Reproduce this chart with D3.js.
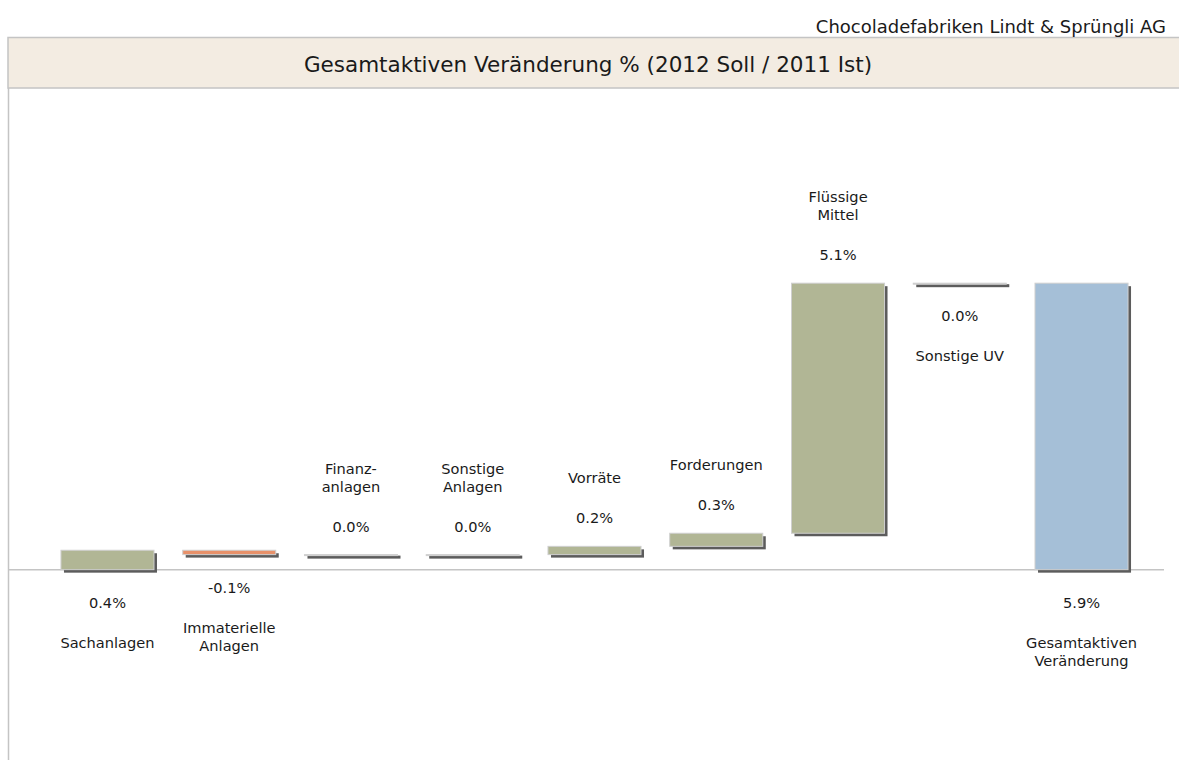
<!DOCTYPE html>
<html>
<head>
<meta charset="utf-8">
<script src="https://cdn.jsdelivr.net/npm/d3@7"></script>
<style>
  body { margin: 0; background: #fff; }
  text { font-family: "DejaVu Sans", Tahoma, Verdana, sans-serif; fill: #1a1a1a; }
</style>
</head>
<body>
<div id="chart"></div>
<script>
// Data
var categories = ["Sachanlagen", "Immaterielle\nAnlagen", "Finanz-\nanlagen", "Sonstige\nAnlagen",
                  "Vorräte", "Forderungen", "Flüssige\nMittel", "Sonstige UV", "Gesamtaktiven\nVeränderung"];
var changes = [0.40, -0.09, 0.0, 0.0, 0.17, 0.27, 5.15, 0.0];
var valueLabels = ["0.4%", "-0.1%", "0.0%", "0.0%", "0.2%", "0.3%", "5.1%", "0.0%", "5.9%"];
var totalValue = 5.9;
// categories whose labels sit below the bar
var labelsBelow = ["Sachanlagen", "Immaterielle\nAnlagen", "Sonstige UV", "Gesamtaktiven\nVeränderung"];

var titleText = "Gesamtaktiven Veränderung % (2012 Soll / 2011 Ist)";
var companyText = "Chocoladefabriken Lindt & Sprüngli AG";

//Width and height
var w = 1179;
var h = 760;

var svg = d3.select("#chart").append("svg")
    .attr("width", w)
    .attr("height", h);

// build waterfall rows
var rows = [];
var running = 0;
for (var i = 0; i < changes.length; i++) {
  var start = running;
  running += changes[i];
  rows.push({ name: categories[i], start: start, end: running, value: changes[i], label: valueLabels[i], type: changes[i] < 0 ? "neg" : "pos" });
}
rows.push({ name: categories[categories.length - 1], start: 0, end: totalValue, value: totalValue, label: valueLabels[valueLabels.length - 1], type: "total" });

var color = { pos: "#b1b695", neg: "#e8916a", total: "#a5bfd7" };

var x = d3.scaleBand()
    .domain(categories)
    .range([46.6, 1142.4])
    .paddingInner(0.236)
    .paddingOuter(0.118);

var y = d3.scaleLinear()
    .domain([-3.92, 9.92])
    .range([760, 88]);

// header band
svg.append("rect")
    .attr("x", 8).attr("y", 37.5)
    .attr("width", w).attr("height", 50.5)
    .attr("fill", "#f3ece2")
    .attr("stroke", "#c4c4c4")
    .attr("stroke-width", 1.5);

svg.append("text")
    .attr("x", 588).attr("y", 72)
    .attr("text-anchor", "middle")
    .style("font-size", "21.5px")
    .text(titleText);

svg.append("text")
    .attr("x", 1166).attr("y", 33)
    .attr("text-anchor", "end")
    .style("font-size", "18px")
    .text(companyText);

// left frame line
svg.append("line")
    .attr("x1", 8.5).attr("x2", 8.5)
    .attr("y1", 88).attr("y2", h)
    .attr("stroke", "#c4c4c4").attr("stroke-width", 1.5);

// zero line
svg.append("line")
    .attr("x1", 8).attr("x2", 1164)
    .attr("y1", y(0)).attr("y2", y(0))
    .attr("stroke", "#c4c4c4").attr("stroke-width", 1.5);

var bars = svg.selectAll("g.bar")
    .data(rows)
    .enter()
    .append("g")
    .attr("class", "bar");

function barTop(d) { return y(Math.max(d.start, d.end)); }
function barBottom(d) { return y(Math.min(d.start, d.end)); }
function barH(d) { return Math.max(1, barBottom(d) - barTop(d)); }

// shadow
bars.append("rect")
    .attr("x", function(d) { return x(d.name) + 3; })
    .attr("y", function(d) { return barTop(d) + Math.min(3, barH(d)); })
    .attr("width", x.bandwidth())
    .attr("height", function(d) { return barH(d) + 3 - Math.min(3, barH(d)); })
    .attr("fill", "#5c5c5c");

// bar
bars.append("rect")
    .attr("x", function(d) { return x(d.name); })
    .attr("y", barTop)
    .attr("width", x.bandwidth())
    .attr("height", barH)
    .attr("fill", function(d) { return d.value === 0 ? "#c8c8c8" : color[d.type]; })
    .attr("stroke", "#cfcfcf")
    .attr("stroke-width", 1);

// labels
bars.each(function(d) {
  var g = d3.select(this);
  var cx = x(d.name) + x.bandwidth() / 2;
  var lines = d.name.split("\n");
  var below = labelsBelow.indexOf(d.name) >= 0;
  var valueY, nameY;
  if (below) {
    valueY = barBottom(d) + 33;
    nameY = valueY + 40;
  } else {
    valueY = barTop(d) - 28;
    nameY = valueY - 40 - (lines.length - 1) * 18;
  }
  g.append("text")
    .attr("x", cx).attr("y", valueY)
    .attr("dy", "0.35em")
    .attr("text-anchor", "middle")
    .style("font-size", "14.6px")
    .text(d.label);
  lines.forEach(function(l, k) {
    g.append("text")
      .attr("x", cx).attr("y", nameY + k * 18)
      .attr("dy", "0.35em")
      .attr("text-anchor", "middle")
      .style("font-size", "14.6px")
      .text(l);
  });
});
</script>
</body>
</html>
